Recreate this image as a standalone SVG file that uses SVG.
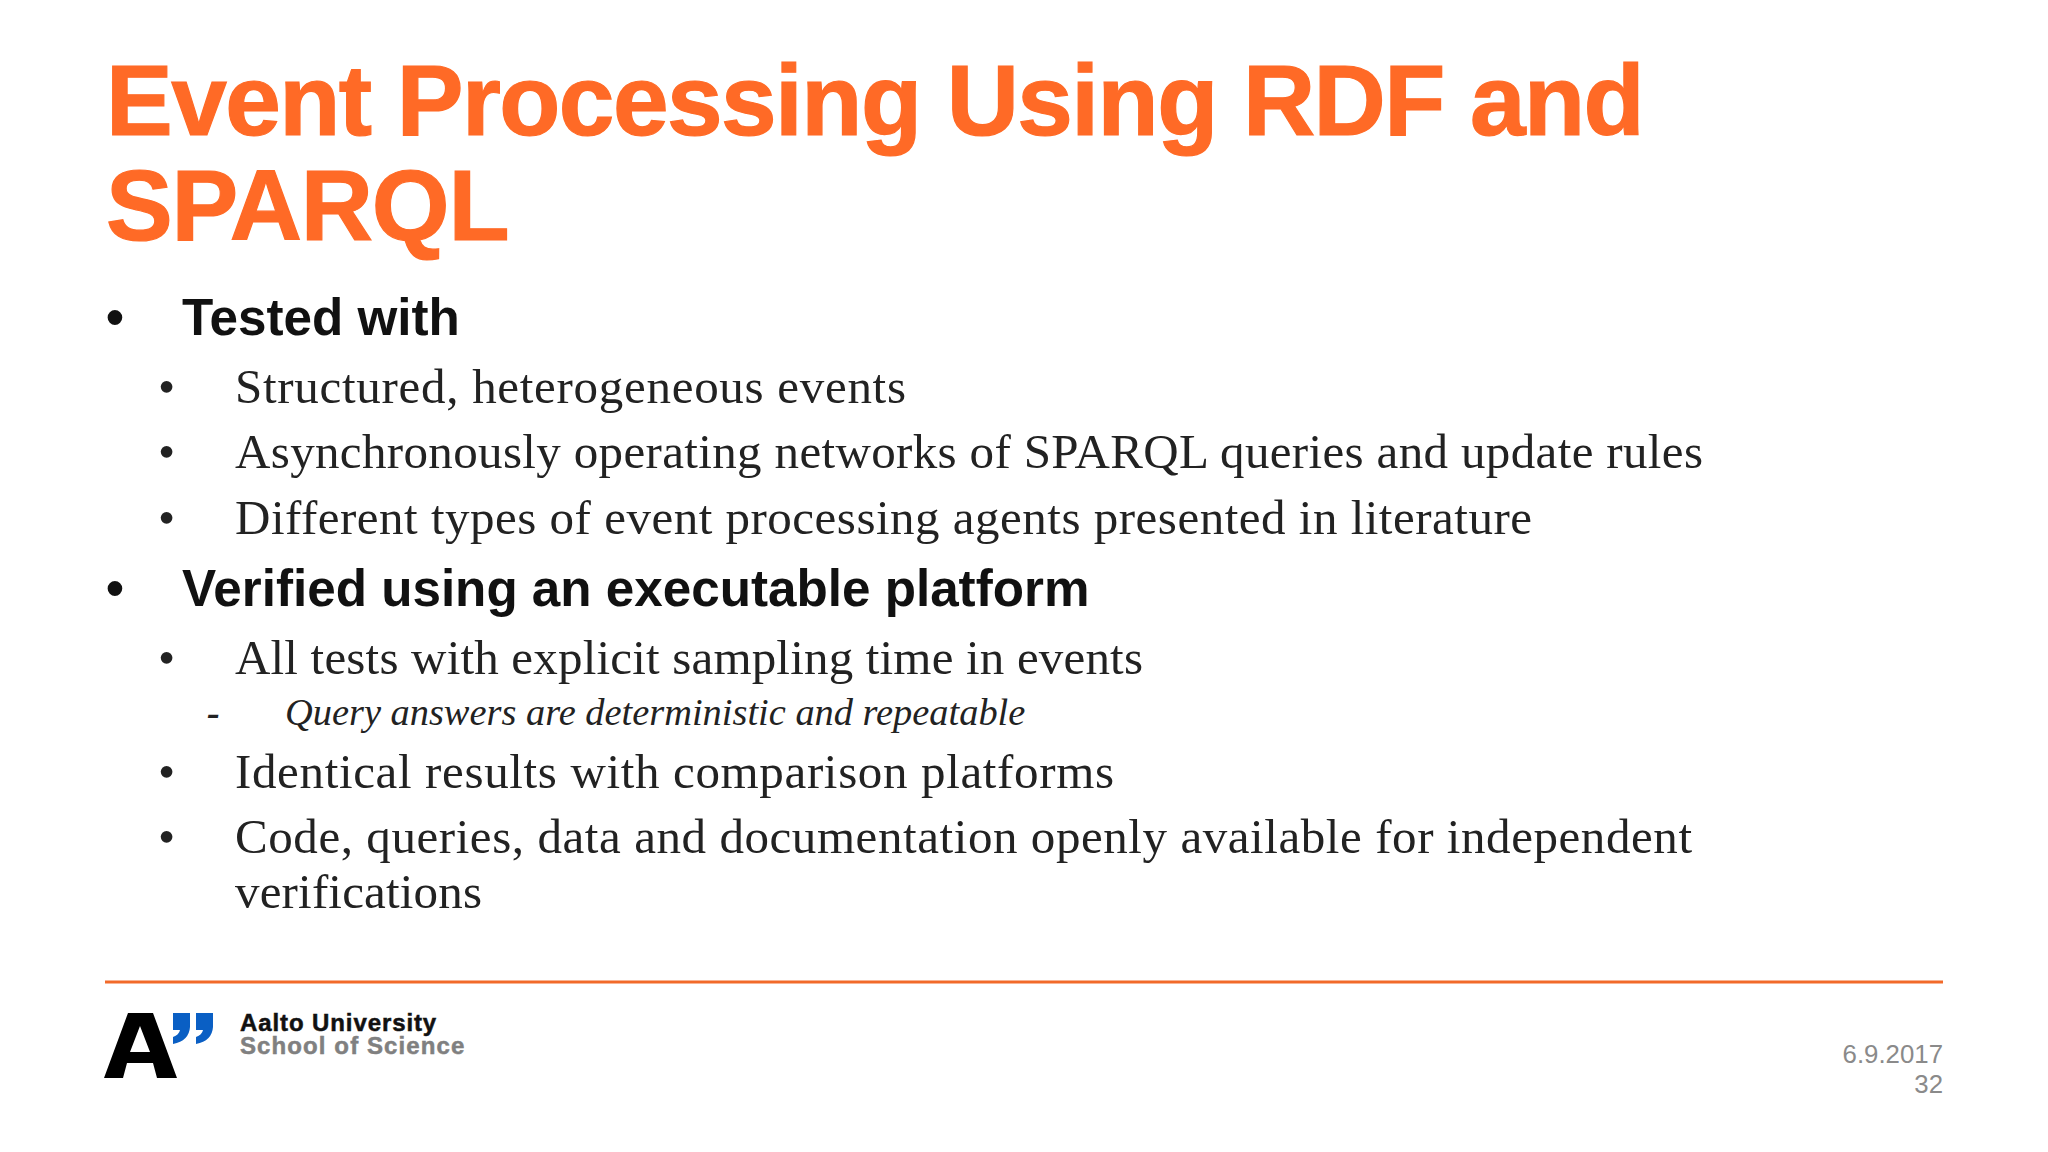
<svg xmlns="http://www.w3.org/2000/svg" width="2048" height="1152" viewBox="0 0 2048 1152">
<style>
.t{font-family:"Liberation Sans",Arial,sans-serif;font-weight:700;font-size:100px;fill:#ff6a26;stroke:#ff6a26;stroke-width:1.2px;letter-spacing:-1.55px}
.h{font-family:"Liberation Sans",Arial,sans-serif;font-weight:700;font-size:51.2px;fill:#111}
.b{font-family:"Liberation Serif","Times New Roman",serif;font-size:49px;fill:#222}
.i{font-family:"Liberation Serif","Times New Roman",serif;font-style:italic;font-size:38.4px;fill:#222}
.d{font-family:"Liberation Sans",Arial,sans-serif;font-size:25.8px;fill:#8a8a8a}
.l{font-family:"Liberation Sans",Arial,sans-serif;font-weight:700;font-size:24px;letter-spacing:.9px;stroke-width:.5px}
</style>
<rect width="2048" height="1152" fill="#fff"/>
<text class="t" x="106" y="135">Event Processing Using RDF and</text>
<text class="t" x="106" y="240" textLength="402">SPARQL</text>
<text class="h" x="106" y="335">•</text><text class="h" x="182" y="335">Tested with</text>
<text class="b" x="158" y="403">•</text><text class="b" x="235" y="403" textLength="671">Structured, heterogeneous events</text>
<text class="b" x="158" y="468">•</text><text class="b" x="235" y="468" textLength="1468">Asynchronously operating networks of SPARQL queries and update rules</text>
<text class="b" x="158" y="534">•</text><text class="b" x="235" y="534" textLength="1297">Different types of event processing agents presented in literature</text>
<text class="h" x="106" y="606">•</text><text class="h" x="182" y="606">Verified using an executable platform</text>
<text class="b" x="158" y="674">•</text><text class="b" x="235" y="674" textLength="908">All tests with explicit sampling time in events</text>
<text class="i" x="207" y="725" font-weight="700">-</text><text class="i" x="285" y="725">Query answers are deterministic and repeatable</text>
<text class="b" x="158" y="788">•</text><text class="b" x="235" y="788" textLength="879">Identical results with comparison platforms</text>
<text class="b" x="158" y="853">•</text><text class="b" x="235" y="853" textLength="1457">Code, queries, data and documentation openly available for independent</text>
<text class="b" x="235" y="908" textLength="247">verifications</text>
<line x1="105" y1="982" x2="1943" y2="982" stroke="#f26a2a" stroke-width="3"/>
<path fill-rule="evenodd" d="M104 1078L128 1013H153L177 1078H157L153 1063H127L123 1078ZM130 1052H150L140 1026Z" fill="#000"/>
<path d="M173 1013H190V1027Q189 1041 173 1044V1037Q179 1035 180 1030H173ZM196 1013H213V1027Q212 1041 196 1044V1037Q202 1035 203 1030H196Z" fill="#0a5fc4"/>
<text class="l" x="240" y="1031" fill="#111" stroke="#111">Aalto University</text>
<text class="l" x="240" y="1054" fill="#808080" stroke="#808080" style="letter-spacing:1.1px">School of Science</text>
<text class="d" x="1943" y="1063" text-anchor="end">6.9.2017</text>
<text class="d" x="1943" y="1093" text-anchor="end">32</text>
</svg>
